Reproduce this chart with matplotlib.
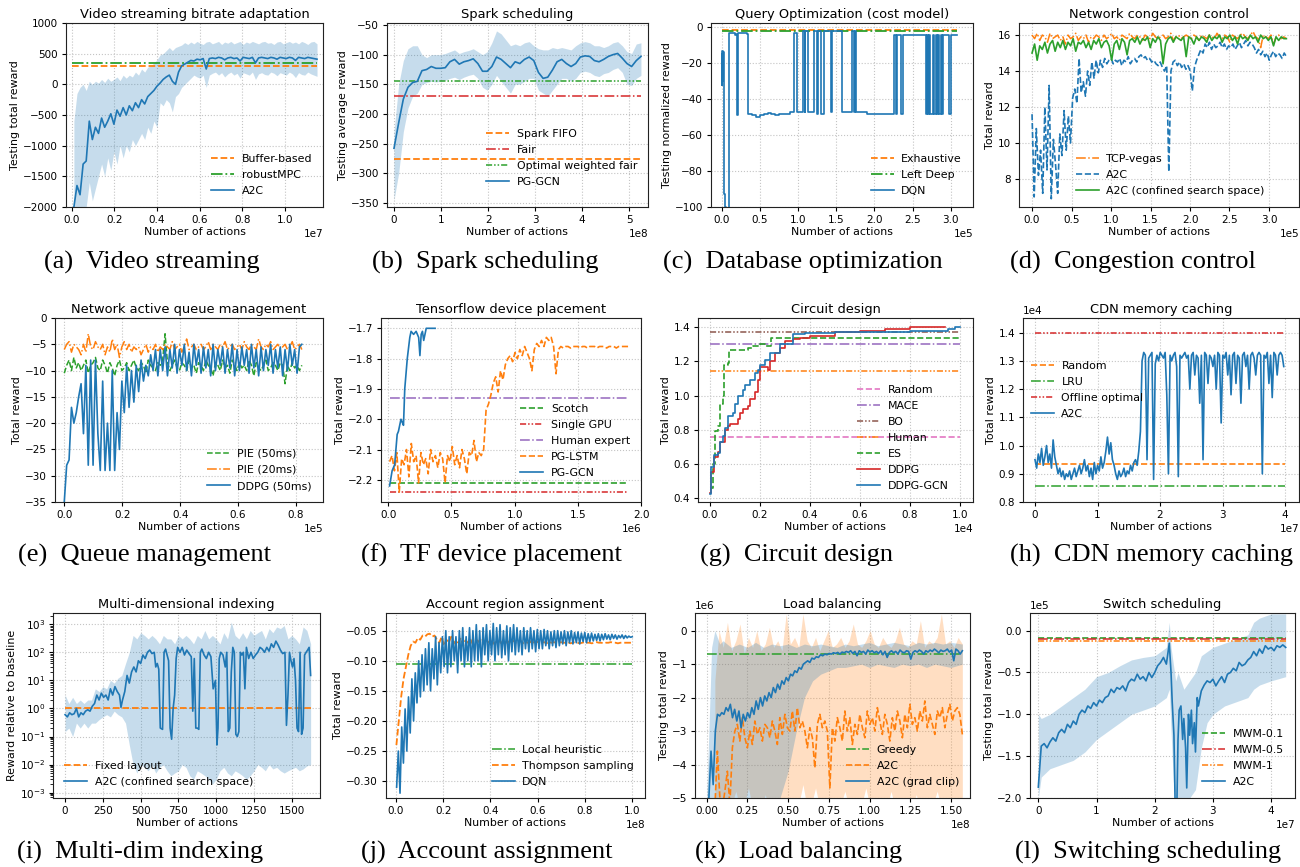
import numpy as np
import matplotlib
matplotlib.use("Agg")
import matplotlib.pyplot as plt
from matplotlib.ticker import MultipleLocator, LogLocator, NullFormatter

# ---------------- colours / styles ----------------
BLUE = "#1f77b4"; ORANGE = "#ff7f0e"; GREEN = "#2ca02c"; RED = "#d62728"
PURPLE = "#9467bd"; BROWN = "#8c564b"; PINK = "#e377c2"
DASH = (0, (3.7, 1.6))
DASHDOT = (0, (6.4, 1.6, 1.0, 1.6))
DDOT = (0, (4.0, 1.3, 1.0, 1.3, 1.0, 1.3))

# ---------------- (a) video streaming ----------------
a_baselines = {"Buffer-based": 300, "robustMPC": 350}
a_a2c = [-2000, -1650, -1800, -1300, -1250, -600, -900, -700, -800, -550,
         -700, -600, -480, -650, -420, -520, -380, -500, -350, -430,
         -300, -380, -250, -320, -200, -150, -100, -30, 20, 80,
         120, 150, 50, 0, 200, 300, 330, 360, 390, 380,
         410, 400, 420, 250, 420, 430, 420, 440, 430, 400,
         430, 440, 420, 430, 380, 440, 430, 420, 440, 350,
         430, 440, 430, 420, 440, 430, 410, 440, 430, 420,
         440, 430, 390, 440, 430, 420, 440, 430, 420, 410]
a_hi = [-600, -150, -50, 0, -100, 50, 0, 50, 20, 80,
        30, 100, 50, 80, 120, 60, 150, 100, 150, 120,
        200, 150, 250, 200, 280, 300, 350, 400, 480, 500,
        550, 600, 550, 600, 620, 640, 680, 650, 690, 660,
        700, 670, 650, 690, 700, 660, 680, 700, 650, 690,
        670, 700, 660, 680, 700, 650, 690, 670, 700, 680,
        660, 690, 700, 670, 680, 650, 690, 700, 660, 680,
        700, 670, 690, 660, 700, 680, 650, 690, 700, 660]
a_lo = [-2000, -2000, -2000, -2000, -2000, -1600, -1900, -1700, -1500, -1300,
        -1500, -1200, -1400, -1100, -1300, -1000, -1200, -1000, -1100, -900,
        -1000, -900, -800, -900, -700, -800, -600, -700, -300, -350,
        -250, -300, -450, -200, -150, -50, 0, 50, 100, 150,
        120, 100, 150, -50, 150, 180, 200, 150, 190, 120,
        170, 200, 150, 180, 100, 190, 170, 150, 200, 80,
        170, 190, 160, 150, 200, 180, 140, 190, 170, 150,
        200, 170, 110, 190, 160, 150, 200, 170, 150, 130]

# ---------------- (b) spark scheduling ----------------
b_baselines = {"Spark FIFO": -276, "Fair": -169, "Optimal weighted fair": -144}
b_pg = [-258, -215, -175, -155, -147, -145, -127, -125, -120, -123,
        -123, -122, -112, -108, -116, -112, -110, -107, -115, -128,
        -128, -120, -104, -108, -115, -122, -112, -115, -108, -104,
        -110, -130, -140, -138, -126, -112, -108, -115, -120, -115,
        -104, -102, -103, -110, -112, -108, -103, -100, -98, -106,
        -115, -120, -110, -103]
b_hi = [-230, -150, -110, -90, -85, -85, -100, -105, -100, -100,
        -100, -98, -95, -92, -98, -95, -93, -90, -95, -100,
        -95, -80, -60, -65, -75, -85, -82, -85, -80, -78,
        -85, -90, -92, -92, -88, -90, -88, -90, -92, -85,
        -80, -78, -80, -85, -85, -88, -85, -80, -78, -85,
        -95, -98, -82, -80]
b_lo = [-345, -300, -230, -190, -170, -165, -150, -147, -145, -146,
        -145, -143, -140, -138, -142, -138, -135, -133, -140, -155,
        -160, -150, -135, -145, -155, -165, -150, -150, -145, -140,
        -140, -160, -165, -170, -160, -150, -140, -140, -145, -140,
        -130, -128, -130, -135, -137, -132, -130, -125, -122, -130,
        -150, -152, -140, -135]

# ---------------- (c) query optimization (x in 1e5) ----------------
c_baselines = {"Exhaustive": -1.5, "Left Deep": -1.9}
c_dqn = [(0.000, -15), (0.004, -32), (0.008, -13), (0.012, -30), (0.016, -20),
         (0.020, -14), (0.024, -92), (0.030, -93), (0.045, -100), (0.055, -102),
         (0.070, -105), (0.085, -110), (0.100, -3), (0.180, -4), (0.190, -3.5),
         (0.200, -49), (0.210, -3), (0.330, -3.5), (0.340, -48), (0.400, -49),
         (0.450, -50), (0.500, -49), (0.550, -48), (0.600, -47.5), (0.650, -48),
         (0.700, -49), (0.750, -48), (0.800, -48.5), (0.850, -48), (0.900, -47),
         (0.950, -3), (0.985, -47), (1.060, -2), (1.085, -47), (1.095, -2),
         (1.125, -47), (1.210, -2), (1.245, -48), (1.265, -2), (1.300, -48),
         (1.335, -2), (1.435, -47), (1.445, -2), (1.580, -47), (1.700, -2),
         (1.730, -47), (1.745, -2), (1.760, -47), (1.900, -48), (2.250, -4),
         (2.280, -48), (2.300, -4), (2.350, -48), (2.370, -4), (2.680, -48),
         (2.690, -4), (2.700, -48), (2.715, -4), (2.730, -48), (2.760, -4),
         (2.780, -48), (2.800, -4), (2.820, -48), (2.835, -4), (2.850, -48),
         (2.870, -4), (2.880, -48), (2.895, -4), (2.970, -48), (3.000, -4),
         (3.080, -4)]

# ---------------- (d) congestion control (x in 1e5, 0..3.22) ----------------
d_vegas = [16.0, 15.8, 16.1, 15.7, 16.0, 15.9, 15.6, 16.1, 15.8, 15.9,
           16.0, 15.7, 15.9, 15.5, 16.0, 15.8, 15.9, 16.1, 15.7, 15.9,
           15.8, 16.0, 15.6, 15.9, 15.8, 16.0, 15.9, 15.7, 16.0, 15.8,
           15.9, 16.1, 15.8, 15.9, 15.7, 16.0, 15.9, 15.8, 16.1, 15.9,
           15.8, 16.0, 15.9, 15.7, 16.0, 15.9, 15.8, 16.1, 15.9, 15.8,
           15.9, 16.0, 15.8, 15.9, 16.1, 15.7, 15.9, 16.0, 15.8, 15.9,
           16.0, 15.9, 15.8, 16.0, 15.9, 15.7, 16.0, 15.9, 15.8, 16.0,
           15.9, 15.8, 16.1, 15.9, 15.8, 16.0, 15.9, 15.6, 16.0, 15.9,
           15.8, 16.0, 16.1, 15.9, 15.8, 16.0, 16.2, 15.9, 15.8, 15.3,
           16.0, 15.9, 15.8, 16.0, 15.5, 15.9, 16.0, 15.8, 15.9, 15.8]
d_a2c = [11.6, 7.0, 10.8, 8.2, 9.6, 7.2, 12.0, 8.5, 13.2, 6.9,
         10.2, 8.8, 7.2, 10.5, 9.3, 11.8, 9.6, 11.5, 10.0, 12.5,
         13.0, 12.2, 14.7, 12.8, 13.4, 12.6, 14.0, 13.2, 14.5, 13.6,
         14.6, 13.9, 14.6, 14.2, 14.7, 14.4, 14.6,
         14.7, 14.4, 14.6, 14.5, 14.7, 14.3, 14.6, 14.5, 14.8, 14.4,
         14.6, 14.7, 14.5, 14.8, 14.9, 14.7, 14.8, 14.6, 14.7, 14.5,
         14.6, 14.4, 14.3, 14.5, 14.2, 14.0,
         14.3, 8.4, 14.0,
         14.5, 14.6, 14.3, 14.5, 14.2, 14.4, 14.1, 14.3, 14.0, 12.9,
         14.2, 14.6, 14.9, 15.2, 15.0, 15.5, 15.3, 15.6, 15.2, 15.5,
         15.3, 15.4, 15.6, 15.3, 15.5, 15.2, 15.4, 15.3, 15.5, 15.2,
         15.4, 15.6, 15.3, 15.5, 15.7, 15.4, 15.6, 15.5, 15.3, 15.0,
         15.2, 14.9, 15.1, 14.8, 15.0, 14.6, 14.9, 15.1, 14.8, 15.0,
         14.9, 14.7, 15.0, 14.8]
d_conf = [15.0, 15.5, 14.6, 15.4, 15.2, 15.6, 15.0, 15.5, 15.7, 15.1,
          15.6, 15.3, 15.7, 15.2, 15.6, 15.4, 15.8, 15.1, 15.6, 15.5,
          15.7, 15.3, 15.6, 15.2, 15.7, 15.5, 15.8, 15.3, 15.6, 15.7,
          15.4, 14.6, 15.5, 15.7, 15.2, 15.8, 15.6, 14.9, 15.7, 15.8,
          15.6, 15.9, 15.5, 15.8, 15.7, 15.9, 15.3, 15.8, 15.6, 15.9,
          15.7, 14.4, 15.5, 15.8, 15.9, 15.6, 15.9, 15.8, 15.7, 15.9,
          14.8, 15.9, 15.8, 15.5, 15.9, 15.7, 15.9, 15.8, 15.6, 16.0,
          15.7, 15.9, 15.8, 16.0, 15.6, 15.9, 15.8, 16.0, 15.7, 15.9,
          15.5, 16.0, 15.8, 15.9, 15.7, 16.0, 15.8, 15.9, 15.6, 16.0,
          15.8, 15.9, 15.7, 15.9, 15.4, 15.9, 15.7, 15.9, 15.8, 15.8]

# ---------------- (e) active queue management (x in 1e5, 0..0.82) ----------------
e_ddpg = [-35, -28, -27, -17, -20, -18, -15, -12.5, -22, -9,
          -28, -8, -28, -8, -22, -29, -12, -29, -20, -29,
          -10, -29, -18, -25, -12, -18, -9, -17, -10, -16,
          -9, -14, -8, -12, -9, -11, -7, -10, -6, -11,
          -6, -10, -5.5, -11, -6, -9.5, -5, -10.5, -6, -9,
          -5, -10, -6.5, -11, -5, -9, -6, -10.5, -5.5, -9.5,
          -6, -11, -5, -10, -6, -9, -5.5, -10.5, -6, -9.5,
          -5, -11, -6, -10, -5.5, -9, -6, -10.5, -5, -9.5,
          -6, -11, -5.5, -10, -6, -9, -5, -10.5, -6, -9.5,
          -5.5, -11, -6, -10, -5, -9, -6, -10.5, -5.5, -5]
e_pie50 = [-10.5, -9, -8, -10, -7.5, -9.5, -8.5, -10, -9, -8,
           -10.5, -9, -8.5, -7.5, -9.5, -10, -8, -9, -10.5, -8.5,
           -9.5, -11, -9, -8, -10, -9.5, -8.5, -10, -9, -8,
           -9.5, -10, -8.5, -9, -10.5, -8, -9, -9.5, -10, -8.5,
           -9, -8, -3, -8.5, -10, -9, -8, -9.5, -10, -8.5,
           -9, -10, -8, -9.5, -9, -10.5, -8.5, -9, -10, -8,
           -9, -9.5, -11, -8.5, -9, -10, -8, -9.5, -9, -10.5,
           -8, -9, -10, -8.5, -9.5, -9, -10, -8, -9, -11,
           -8.5, -9.5, -10, -9, -8, -10, -9.5, -8.5, -9, -10,
           -8.5, -9, -12.5, -9, -10, -8.5, -9.5, -9, -10, -9]
e_pie20 = [-6, -5, -4.5, -6.5, -5, -5.5, -6, -7, -5, -6.5,
           -3, -5.5, -6, -4.5, -5.5, -6, -5, -7, -5.5, -6.5,
           -4, -6, -5, -7.5, -5.5, -4.5, -6, -5, -6.5, -5.5,
           -6, -5.5, -7, -6, -5, -6.5, -5.5, -6, -5, -6.5,
           -5.5, -6, -5, -5.5, -6, -4.5, -6, -5.5, -5, -6.5,
           -5.5, -4, -6, -5.5, -5, -6, -5.5, -5, -6, -5.5,
           -4.5, -6, -5, -5.5, -6, -5, -5.5, -4.5, -6, -5.5,
           -5, -6, -5.5, -5, -6, -4.5, -5.5, -6, -5, -5.5,
           -6, -4, -5.5, -6, -5, -5.5, -4.5, -6, -5.5, -5,
           -6, -5.5, -5, -6, -5.5, -4.5, -6, -5.5, -5, -6]

# ---------------- (f) TF device placement (x in 1e6) ----------------
f_baselines = {"Scotch": -2.21, "Single GPU": -2.24, "Human expert": -1.93}
f_lstm = [-2.14, -2.12, -2.17, -2.11, -2.24, -2.13, -2.15, -2.10, -2.19, -2.08,
          -2.14, -2.12, -2.21, -2.11, -2.15, -2.13, -2.18, -2.10, -2.14, -2.12,
          -2.16, -2.11, -2.13, -2.21, -2.12, -2.14, -2.09, -2.15, -2.12, -2.16,
          -2.10, -2.13, -2.18, -2.11, -2.12, -2.07, -2.14, -2.11, -2.12, -2.10,
          -1.97, -1.95, -1.92, -1.88, -1.86, -1.91, -1.84, -1.87, -1.82, -1.80,
          -1.79, -1.81, -1.78, -1.80, -1.77, -1.79, -1.76, -1.78, -1.80, -1.84,
          -1.77, -1.75, -1.76, -1.74, -1.76, -1.73, -1.74, -1.73, -1.76, -1.85,
          -1.77, -1.76, -1.765, -1.76, -1.76, -1.765, -1.76, -1.76, -1.76, -1.765,
          -1.76, -1.76, -1.765, -1.76, -1.76, -1.76, -1.765, -1.76, -1.76, -1.76,
          -1.765, -1.76, -1.76, -1.76, -1.765, -1.76, -1.76, -1.76, -1.76, -1.76]
f_gcn = [(0.01, -2.22), (0.03, -2.17), (0.05, -2.15), (0.06, -2.10), (0.07, -2.05),
         (0.08, -2.04), (0.09, -2.02), (0.10, -2.00), (0.11, -2.01), (0.12, -2.02),
         (0.13, -1.90), (0.15, -1.80), (0.17, -1.73), (0.18, -1.71), (0.20, -1.72),
         (0.22, -1.71), (0.24, -1.73), (0.25, -1.79), (0.26, -1.72), (0.27, -1.71),
         (0.28, -1.74), (0.30, -1.70), (0.32, -1.70), (0.37, -1.70)]

# ---------------- (g) circuit design (x in 1e4) ----------------
g_baselines = {"Random": 0.755, "MACE": 1.30, "BO": 1.375, "Human": 1.145}
g_es = [(0.0, 0.45), (0.005, 0.46), (0.01, 0.60), (0.02, 0.79), (0.03, 0.82),
        (0.04, 0.95), (0.05, 1.00), (0.055, 1.18), (0.07, 1.19), (0.075, 1.27),
        (0.15, 1.28), (0.17, 1.29), (0.20, 1.30), (0.22, 1.29), (0.245, 1.335),
        (1.0, 1.335)]
g_ddpg = [(0.0, 0.43), (0.005, 0.55), (0.015, 0.64), (0.03, 0.67), (0.04, 0.73),
          (0.06, 0.80), (0.07, 0.82), (0.08, 0.83), (0.10, 0.83), (0.11, 0.86),
          (0.12, 0.90), (0.13, 0.92), (0.15, 0.94), (0.16, 0.98), (0.18, 1.02),
          (0.19, 1.09), (0.20, 1.17), (0.22, 1.17), (0.23, 1.15), (0.24, 1.20),
          (0.26, 1.25), (0.28, 1.28), (0.30, 1.32), (0.33, 1.33), (0.36, 1.34),
          (0.40, 1.35), (0.50, 1.37), (0.60, 1.38), (0.70, 1.39), (0.80, 1.40),
          (0.94, 1.405)]
g_gcn = [(0.0, 0.42), (0.005, 0.58), (0.015, 0.65), (0.03, 0.66), (0.04, 0.73),
         (0.05, 0.76), (0.06, 0.81), (0.07, 0.88), (0.09, 0.90), (0.10, 0.95),
         (0.11, 1.00), (0.13, 1.03), (0.14, 1.06), (0.16, 1.09), (0.18, 1.13),
         (0.19, 1.15), (0.20, 1.18), (0.22, 1.21), (0.24, 1.25), (0.26, 1.25),
         (0.28, 1.30), (0.32, 1.30), (0.33, 1.36), (0.38, 1.365), (0.50, 1.37),
         (0.60, 1.375), (0.80, 1.38), (0.95, 1.39), (0.98, 1.40), (1.0, 1.40)]

# ---------------- (h) CDN caching (x in 1e7, y in 1e4) ----------------
h_baselines = {"Random": 0.935, "LRU": 0.855, "Offline optimal": 1.398}
h_a2c = [0.95, 0.92, 0.97, 0.94, 0.99, 0.93, 0.96, 1.00, 0.94, 0.97, 0.92, 1.02,
         0.96, 0.93, 0.90, 0.92, 0.89, 0.91, 0.88, 0.90, 0.89, 0.91, 0.88, 0.90, 0.92, 0.89, 0.91,
         0.93, 0.90, 0.92, 0.95, 0.91, 0.93, 0.89, 0.92, 0.88, 0.94, 0.90, 0.93, 0.91, 0.96, 0.92, 0.94,
         0.98, 1.03, 0.97, 1.01, 0.95, 0.93,
         0.90, 0.88, 0.91, 0.89, 0.90, 0.92, 0.89, 0.91, 0.90, 0.93, 0.91, 0.94,
         0.95, 0.93, 0.98, 1.05,
         1.30, 1.33, 1.32, 0.95, 1.31, 1.32, 1.33, 0.88, 1.29, 1.32, 1.30, 1.33,
         1.32, 1.31, 1.33, 1.18, 0.90, 1.32, 1.30, 1.32, 1.33, 1.28, 0.89, 1.32,
         1.31, 1.32, 1.33, 1.31, 1.32, 1.20, 1.32, 1.33, 1.25, 1.32, 1.31, 1.15,
         1.32, 0.95, 1.33, 1.32, 1.22, 1.32, 1.31, 1.28, 1.32, 1.20, 1.33, 1.32,
         1.08, 1.32, 1.31, 1.33, 1.25, 1.32, 1.18, 1.32, 1.33, 1.22, 1.32, 1.31,
         1.15, 1.32, 1.33, 1.28, 1.32, 1.20, 1.32, 1.33, 1.31, 1.25, 1.32, 1.33,
         1.32, 0.90, 1.32, 1.31, 1.33, 1.22, 1.32, 1.17, 1.33, 1.32, 1.25, 1.32,
         1.33, 1.32, 1.28]

# ---------------- (i) multi-dim indexing ----------------
i_a2c = [(0, 0.6), (15, 0.5), (30, 0.7), (45, 0.6), (60, 0.65), (75, 1.0), (90, 0.5),
         (105, 0.7), (120, 0.6), (135, 0.8), (150, 0.9), (165, 0.8), (180, 1.2), (195, 1.5),
         (210, 3), (225, 2), (240, 3.5), (255, 2.5), (270, 3), (285, 2), (300, 5), (315, 3),
         (330, 6), (345, 4), (360, 3), (370, 1.1), (380, 2), (395, 4), (410, 15), (425, 8),
         (440, 20), (455, 30), (470, 20), (485, 50), (500, 40), (515, 80), (530, 60),
         (545, 100), (560, 120), (575, 90), (590, 100), (600, 30), (610, 40), (620, 25),
         (630, 0.2), (645, 0.18), (655, 100), (665, 130), (675, 80), (685, 50), (695, 0.2),
         (705, 0.08), (715, 1), (725, 3), (735, 60), (745, 150), (760, 100), (775, 150),
         (790, 80), (805, 120), (820, 90), (835, 70), (845, 0.8), (855, 60), (865, 0.2),
         (875, 0.2), (885, 0.18), (895, 100), (905, 130), (920, 80), (935, 60), (950, 100),
         (965, 70), (980, 5), (995, 10), (1005, 0.05), (1012, 0.2), (1020, 60), (1030, 100),
         (1045, 80), (1060, 30), (1070, 100), (1080, 0.15), (1090, 0.2), (1100, 20),
         (1110, 150), (1120, 100), (1130, 0.12), (1140, 0.1), (1150, 0.15), (1160, 100),
         (1170, 80), (1180, 100), (1190, 5), (1200, 150), (1215, 60), (1230, 100),
         (1245, 60), (1260, 80), (1275, 100), (1290, 150), (1305, 130), (1320, 100),
         (1335, 150), (1350, 110), (1365, 200), (1380, 150), (1395, 250), (1410, 180),
         (1425, 120), (1440, 90), (1455, 100), (1465, 0.25), (1475, 3), (1485, 100),
         (1495, 50), (1505, 30), (1515, 60), (1525, 10), (1535, 0.2), (1545, 0.15),
         (1555, 100), (1565, 0.12), (1575, 0.2), (1585, 80), (1595, 100), (1605, 120),
         (1615, 150), (1625, 15)]
i_band_hi = [3, 1.5, 2.5, 1.5, 2, 1.5, 2, 2, 5, 4, 6, 5, 10, 8, 12, 15, 40, 100, 400, 300,
             500, 400, 300, 400, 300, 200, 400, 300, 300, 200, 400, 300, 400, 300, 200, 400,
             300, 600, 300, 400, 300, 200, 500, 300, 1200, 400, 300, 500, 300, 600, 400, 500,
             600, 300, 700, 500, 800, 700, 900, 300, 400, 300, 200, 800, 600, 200]
i_band_lo = [0.15, 0.2, 0.1, 0.3, 0.2, 0.3, 0.2, 0.3, 0.3, 0.4, 0.5, 0.6, 0.5, 0.8, 0.6, 0.5,
             0.3, 0.05, 0.01, 0.005, 0.01, 0.008, 0.006, 0.01, 0.005, 0.008, 0.01, 0.006,
             0.004, 0.005, 0.006, 0.01, 0.008, 0.004, 0.003, 0.006, 0.005, 0.004, 0.003,
             0.002, 0.003, 0.006, 0.008, 0.005, 0.004, 0.006, 0.005, 0.004, 0.003, 0.004,
             0.006, 0.01, 0.008, 0.006, 0.01, 0.007, 0.008, 0.006, 0.005, 0.006, 0.007,
             0.008, 0.006, 0.007, 0.009, 0.01]

# ---------------- (j) account region assignment (x in 1e8) ----------------
j_local = -0.106
j_dqn = [-0.31, -0.25, -0.32, -0.21, -0.27, -0.18, -0.25, -0.16, -0.22, -0.13,
         -0.20, -0.12, -0.17, -0.10, -0.16, -0.09, -0.15, -0.08, -0.14, -0.07,
         -0.15, -0.08, -0.13, -0.06, -0.14, -0.07, -0.12, -0.06, -0.11,
         -0.05, -0.12, -0.06, -0.11, -0.05, -0.10, -0.06, -0.12, -0.05, -0.10,
         -0.045, -0.11, -0.06, -0.10,
         -0.045, -0.11, -0.05, -0.10, -0.04, -0.10, -0.05, -0.11, -0.045, -0.09,
         -0.04, -0.10, -0.05, -0.09,
         -0.038, -0.10, -0.045, -0.09, -0.04, -0.095, -0.05, -0.09, -0.042, -0.10,
         -0.045, -0.085, -0.04, -0.09,
         -0.045, -0.085, -0.05, -0.09, -0.045, -0.08, -0.05, -0.085, -0.045, -0.08,
         -0.05, -0.085, -0.048, -0.08,
         -0.05, -0.08, -0.048, -0.075, -0.05, -0.08, -0.052, -0.075, -0.05, -0.078,
         -0.05, -0.075, -0.052, -0.072,
         -0.05, -0.075, -0.052, -0.07, -0.05, -0.072, -0.053, -0.07, -0.052, -0.072,
         -0.054, -0.068, -0.053, -0.07,
         -0.055, -0.068, -0.054, -0.067, -0.056, -0.066, -0.055, -0.067, -0.056, -0.065,
         -0.055, -0.064, -0.057, -0.065, -0.056, -0.063, -0.057, -0.064, -0.058, -0.062,
         -0.057, -0.063, -0.058, -0.062, -0.059, -0.061, -0.06]
j_thompson = [-0.24, -0.20, -0.16, -0.13, -0.11, -0.09, -0.075, -0.068, -0.07, -0.062,
              -0.065, -0.058, -0.06, -0.056, -0.055, -0.06, -0.058,
              -0.065, -0.07, -0.06, -0.075, -0.065, -0.07, -0.06, -0.072, -0.066, -0.07,
              -0.062, -0.075, -0.066, -0.07, -0.064, -0.072, -0.068, -0.066, -0.07, -0.064,
              -0.073, -0.067, -0.07, -0.065, -0.072, -0.068, -0.066, -0.071, -0.065, -0.07,
              -0.068, -0.072, -0.066, -0.07, -0.068, -0.066, -0.071, -0.068, -0.07, -0.067,
              -0.072, -0.068, -0.069,
              -0.068, -0.07, -0.069, -0.071, -0.068, -0.07, -0.069, -0.07, -0.071, -0.069,
              -0.07, -0.07, -0.069, -0.071, -0.07, -0.069, -0.07, -0.071, -0.07, -0.069,
              -0.07, -0.07, -0.071, -0.07, -0.069, -0.07, -0.07, -0.071, -0.07, -0.07,
              -0.069, -0.07, -0.07, -0.071, -0.07, -0.07, -0.07, -0.07, -0.07, -0.07]

# ---------------- (k) load balancing (x in 1e8, y in 1e6) ----------------
k_greedy = -0.7
k_clip = [-5.3, -5.0, -3.6, -4.6, -3.0, -2.5, -2.55, -2.45, -2.5, -2.3,
          -2.4, -2.2, -2.6, -2.35, -2.7, -2.4, -2.9, -2.5, -2.7, -2.45,
          -2.6, -2.3, -2.5, -2.1, -2.35, -2.0, -2.25, -1.95, -2.1, -1.85,
          -2.0, -1.7, -1.85, -1.6, -1.75, -1.5, -1.6, -1.4, -1.5, -1.3,
          -1.35, -1.2, -1.25, -1.1, -1.15, -1.0, -0.95, -0.9, -0.95, -0.82,
          -0.85, -0.78, -0.8, -0.72, -0.75, -0.7,
          -0.72, -0.68, -0.7, -0.66, -0.68, -0.65, -0.7, -0.64, -0.66, -0.62,
          -0.65, -0.6, -0.68, -0.62, -0.75, -0.6, -0.65, -0.62, -0.7, -0.58,
          -0.64, -0.6, -0.66, -0.62, -0.68, -0.6, -0.72, -0.62, -0.8, -0.65,
          -0.6, -0.66, -0.62, -0.7, -0.58, -0.64, -0.66, -0.6, -0.62, -0.85,
          -0.65, -0.6, -0.64, -0.58, -0.62, -0.7, -0.6, -0.64, -0.58, -0.62,
          -0.55, -0.6, -0.66, -0.58, -0.62, -0.6, -0.55, -0.64, -0.58, -0.9,
          -0.55, -0.6, -0.7, -0.6]
k_clip_band_x = [0.0, 0.02, 0.03, 0.05, 0.08, 0.1, 0.15, 0.2, 0.25, 0.3, 0.35, 0.4, 0.45,
                 0.5, 0.55, 0.6, 0.65, 0.7, 0.75, 0.8, 0.85, 0.9, 0.95, 1.0, 1.05, 1.1,
                 1.15, 1.2, 1.25, 1.3, 1.35, 1.4, 1.45, 1.5, 1.57]
k_clip_hi = [-5.0, -2.0, -0.5, 0.0, -0.4, -0.3, -0.5, -0.4, -0.5, -0.35, -0.5, -0.4,
             -0.45, -0.4, -0.5, -0.4, -0.45, -0.4, -0.45, -0.5, -0.4, -0.45, -0.4, -0.35,
             -0.45, -0.4, -0.35, -0.4, -0.45, -0.35, -0.4, -0.35, -0.4, -0.35, -0.4]
k_clip_lo = [-5.5, -5.5, -5.5, -5.5, -5.5, -5.5, -5.5, -5.5, -5.5, -5.5, -5.5, -5.4,
             -5.0, -4.2, -3.0, -2.0, -1.5, -1.3, -1.2, -1.1, -1.1, -1.05, -1.0, -1.1,
             -1.0, -1.05, -1.1, -1.0, -1.05, -1.0, -1.1, -1.0, -1.05, -1.1, -1.0]
k_a2c = [-5.3, -3.6, -5.0, -5.3, -4.8, -4.2, -5.2, -3.5, -3.0, -2.8,
         -3.3, -2.6, -3.2, -3.5, -3.0, -3.4, -2.7, -3.1, -2.9, -3.3,
         -2.8, -2.9, -3.2, -2.7, -3.0, -3.4, -2.6, -3.1, -2.5, -2.9,
         -3.0, -2.4, -3.0, -2.3, -2.9, -2.7, -3.0, -3.5, -2.9, -3.2,
         -4.1, -2.8, -2.5, -2.9, -2.7, -3.0, -4.7, -2.9, -3.3, -2.6,
         -2.9, -3.3, -2.4, -3.0, -2.6, -3.4, -2.8, -3.1, -2.5, -2.9,
         -3.2, -2.4, -2.8, -2.6, -3.0, -2.3, -2.7, -3.1, -2.5, -2.8,
         -3.3, -2.6, -3.0, -2.4, -2.7, -3.2, -2.5, -2.9, -2.2, -2.8,
         -2.6, -3.0, -2.4, -2.7, -2.1, -2.9, -2.5, -2.8, -3.1, -2.4,
         -2.6, -2.3, -2.9, -2.5, -2.2, -2.7, -2.4, -2.3, -2.5, -3.1]
k_a2c_hi = [-1.5, 0.0, -0.5, 0.25, -0.6, -0.3, 0.2, -0.7, -0.2, -0.5,
            0.0, -0.6, -0.4, 0.1, -0.5, -0.3, -0.6, 0.5, -0.4, -0.2,
            -0.5, 0.5, -0.3, -0.5, -0.2, -0.6, -0.3, 0.0, -0.5, -0.4,
            -0.2, -0.5, -0.3, 0.2, -0.4, -0.5, -0.3, 0.0, -0.4, -0.5,
            -0.2, -0.4, -0.5, -0.3, 0.1, -0.4, -0.5, -0.3, -0.4, 0.3,
            -0.5, -0.3, -0.4, -0.2, 0.5, -0.4, -0.3, -0.5, -0.2, -0.4]
k_a2c_lo = [-5.3, -5.3, -5.2, -5.3, -5.2, -4.8, -5.3, -5.2, -4.7, -5.3,
            -5.2, -5.3, -4.9, -5.3, -5.2, -5.3, -5.2, -5.3, -5.2, -5.3,
            -5.2, -4.6, -5.3, -5.2, -4.7, -5.3, -5.2, -5.3, -5.2, -5.3,
            -5.2, -4.8, -5.3, -5.2, -5.3, -5.2, -4.7, -5.3, -5.2, -5.3,
            -5.2, -5.3, -4.8, -5.3, -5.2, -5.3, -5.2, -5.3, -4.9, -5.3,
            -5.2, -5.3, -5.2, -4.8, -5.3, -5.2, -5.3, -5.2, -5.3, -5.2]

# ---------------- (l) switch scheduling (x in 1e7, y in 1e5) ----------------
l_baselines = {"MWM-0.1": -0.09, "MWM-0.5": -0.105, "MWM-1": -0.12}
l_x = [0.0, 0.05, 0.1, 0.15, 0.2, 0.25, 0.3, 0.35, 0.4, 0.45, 0.5, 0.55, 0.6, 0.65, 0.7,
       0.75, 0.8, 0.85, 0.9, 0.95, 1.0, 1.05, 1.1, 1.15, 1.2, 1.25, 1.3, 1.35, 1.4, 1.45,
       1.5, 1.55, 1.6, 1.65, 1.7, 1.75, 1.8, 1.85, 1.9, 1.95, 2.0, 2.05, 2.1, 2.15, 2.2,
       2.25, 2.28, 2.3, 2.33, 2.35, 2.38, 2.4, 2.42, 2.45, 2.48, 2.5, 2.53, 2.55, 2.58,
       2.6, 2.63, 2.65, 2.68, 2.7, 2.73, 2.75, 2.8, 2.85, 2.9, 2.95, 3.0, 3.05, 3.1, 3.15,
       3.2, 3.25, 3.3, 3.35, 3.4, 3.45, 3.5, 3.55, 3.6, 3.65, 3.7, 3.75, 3.8, 3.85, 3.9,
       3.95, 4.0, 4.05, 4.1, 4.15, 4.2, 4.25]
l_a2c = [-1.87, -1.38, -1.35, -1.40, -1.33, -1.28, -1.32, -1.22, -1.18, -1.22,
         -1.12, -1.16, -1.08, -1.12, -1.0, -0.95, -0.98, -0.9, -0.93, -0.86,
         -0.9, -0.83, -0.86, -0.8, -0.78, -0.7, -0.74, -0.68, -0.7, -0.66,
         -0.72, -0.62, -0.58, -0.6, -0.52, -0.58, -0.55, -0.6, -0.5, -0.56,
         -0.5, -0.42, -0.38, -0.32, -0.4, -0.15,
         -0.5, -0.85, -1.25, -2.05, -2.1, -1.3, -0.95, -0.9, -1.3, -1.05,
         -1.4, -1.88, -1.0, -1.25, -0.95, -1.35, -1.1, -1.45, -0.8, -0.9,
         -0.72, -0.65, -0.6, -0.62, -0.58, -0.66, -0.6, -0.55, -0.62, -0.52,
         -0.5, -0.45, -0.48, -0.38, -0.42, -0.4, -0.35, -0.32, -0.25, -0.3,
         -0.22, -0.27, -0.18, -0.22, -0.2, -0.24, -0.18, -0.2, -0.17, -0.2]
l_band_x = [0.0, 0.05, 0.2, 0.4, 0.6, 0.8, 1.0, 1.2, 1.4, 1.6, 1.8, 2.0, 2.1, 2.2, 2.25,
            2.28, 2.32, 2.36, 2.4, 2.5, 2.6, 2.7, 2.8, 2.9, 3.0, 3.2, 3.4, 3.6, 3.7, 3.8,
            4.0, 4.1, 4.25]
l_band_hi = [-1.0, -1.05, -1.0, -0.9, -0.8, -0.7, -0.55, -0.5, -0.42, -0.35, -0.32, -0.3,
             -0.25, -0.2, 0.1, -0.2, -0.4, -0.6, -0.5, -0.7, -0.6, -0.5, -0.3, -0.25, -0.2,
             -0.15, -0.1, -0.05, 0.1, 0.15, 0.2, 0.2, 0.2]
l_band_lo = [-2.0, -1.75, -1.65, -1.6, -1.55, -1.45, -1.3, -1.2, -1.1, -1.0, -0.95, -0.9,
             -0.85, -0.8, -0.7, -1.2, -1.8, -2.0, -2.0, -2.0, -2.0, -1.9, -1.4, -1.1, -1.0,
             -0.9, -0.85, -0.8, -0.7, -0.65, -0.6, -0.58, -0.55]

captions = ["(a)  Video streaming", "(b)  Spark scheduling", "(c)  Database optimization",
            "(d)  Congestion control", "(e)  Queue management", "(f)  TF device placement",
            "(g)  Circuit design", "(h)  CDN memory caching", "(i)  Multi-dim indexing",
            "(j)  Account assignment", "(k)  Load balancing", "(l)  Switching scheduling"]

# ---------------- style ----------------
plt.rcParams.update({
    "font.family": "DejaVu Sans", "font.size": 7.9,
    "axes.titlesize": 9.4, "axes.labelsize": 7.9,
    "xtick.labelsize": 7.5, "ytick.labelsize": 7.5, "legend.fontsize": 7.9,
    "axes.linewidth": 0.8, "axes.edgecolor": "#222222",
    "xtick.major.size": 3.2, "ytick.major.size": 3.2,
    "xtick.major.width": 0.8, "ytick.major.width": 0.8,
    "xtick.major.pad": 2.5, "ytick.major.pad": 2.5,
})

fig = plt.figure(figsize=(13, 8.67), dpi=100)
W, H = 1300.0, 867.0


def new_ax(px, title, ylabel, xlim, ylim, xstep=None, ystep=None):
    x0, x1, y0, y1 = px
    ax = fig.add_axes([x0 / W, 1 - y1 / H, (x1 - x0) / W, (y1 - y0) / H])
    ax.set_title(title, pad=3.5)
    ax.set_xlabel("Number of actions", labelpad=1.5)
    ax.set_ylabel(ylabel, labelpad=2)
    ax.grid(True, linestyle=":", color="#c4c4c4", linewidth=0.8)
    ax.set_axisbelow(True)
    ax.set_xlim(*xlim)
    ax.set_ylim(*ylim)
    if xstep:
        ax.xaxis.set_major_locator(MultipleLocator(xstep))
    if ystep:
        ax.yaxis.set_major_locator(MultipleLocator(ystep))
    return ax


def sci(ax, axis, power):
    ax.ticklabel_format(style="sci", axis=axis, scilimits=(power, power), useMathText=False)
    getattr(ax, axis + "axis").get_offset_text().set_fontsize(7.5)


def hl(ax, xr, y, color, ls, label, lw=1.1):
    ax.plot(xr, [y, y], color=color, linestyle=ls, lw=lw, label=label)


def leg(ax, **kw):
    kw.setdefault("borderaxespad", 0.6)
    ax.legend(frameon=False, handlelength=2.1, handletextpad=0.7,
              labelspacing=0.55, **kw)


def band(ax, x, lo, hi, color, alpha):
    n = min(len(x), len(lo), len(hi))
    ax.fill_between(np.asarray(x[:n]), lo[:n], hi[:n], color=color, alpha=alpha, lw=0)


# (a)
ax = new_ax((66, 323, 23, 207), "Video streaming bitrate adaptation", "Testing total reward",
            (-0.027e7, 1.178e7), (-2000, 1000), 0.2e7, 500)
band(ax, np.linspace(0.01e7, 1.15e7, len(a_hi)), a_lo, a_hi, BLUE, 0.25)
hl(ax, [0, 1.15e7], a_baselines["Buffer-based"], ORANGE, DASH, "Buffer-based", 1.3)
hl(ax, [0, 1.15e7], a_baselines["robustMPC"], GREEN, DASHDOT, "robustMPC", 1.3)
ax.plot(np.linspace(0.01e7, 1.15e7, len(a_a2c)), a_a2c, color=BLUE, lw=1.2, label="A2C")
sci(ax, "x", 7)
leg(ax, loc="lower right")

# (b)
ax = new_ax((387, 648, 23, 207), "Spark scheduling", "Testing average reward",
            (-0.149e8, 5.40e8), (-357, -46.6), 1e8, 50)
bx = np.linspace(0, 5.25e8, len(b_pg))
band(ax, bx, b_lo, b_hi, BLUE, 0.25)
hl(ax, [0, 5.25e8], b_baselines["Spark FIFO"], ORANGE, DASH, "Spark FIFO", 1.3)
hl(ax, [0, 5.25e8], b_baselines["Fair"], RED, DASHDOT, "Fair")
hl(ax, [0, 5.25e8], b_baselines["Optimal weighted fair"], GREEN, DDOT, "Optimal weighted fair")
ax.plot(bx, b_pg, color=BLUE, lw=1.2, label="PG-GCN")
sci(ax, "x", 8)
leg(ax, loc="lower right", bbox_to_anchor=(1.0, 0.05))

# (c)
ax = new_ax((711, 973, 23, 207), "Query Optimization (cost model)", "Testing normalized reward",
            (-0.14e5, 3.29e5), (-100, 2.4), 0.5e5, 20)
cx = np.array([p[0] for p in c_dqn]) * 1e5
cy = [p[1] for p in c_dqn]
hl(ax, [0, 3.08e5], c_baselines["Exhaustive"], ORANGE, DASH, "Exhaustive", 1.3)
hl(ax, [0, 3.08e5], c_baselines["Left Deep"], GREEN, DASHDOT, "Left Deep", 1.3)
ax.plot(cx, cy, color=BLUE, lw=1.2, drawstyle="steps-post", label="DQN")
sci(ax, "x", 5)
leg(ax, loc="lower right")

# (d)
ax = new_ax((1019, 1299, 23, 207), "Network congestion control", "Total reward",
            (-0.165e5, 3.38e5), (6.44, 16.67), 0.5e5, 2)
ax.plot(np.linspace(0, 3.22e5, len(d_vegas)), d_vegas, color=ORANGE, ls=DASHDOT, lw=1.1,
        label="TCP-vegas")
ax.plot(np.linspace(0, 3.22e5, len(d_a2c)), d_a2c, color=BLUE, ls=DASH, lw=1.2, label="A2C")
ax.plot(np.linspace(0, 3.22e5, len(d_conf)), d_conf, color=GREEN, lw=1.2,
        label="A2C (confined search space)")
sci(ax, "x", 5)
leg(ax, loc="lower center", bbox_to_anchor=(0.54, 0.0))

# (e)
ax = new_ax((55, 323, 318, 502), "Network active queue management", "Total reward",
            (-0.032e5, 0.893e5), (-35, 0), 0.2e5, 5)
ax.plot(np.linspace(0, 0.82e5, len(e_pie50)), e_pie50, color=GREEN, ls=DASH, lw=1.1,
        label="PIE (50ms)")
ax.plot(np.linspace(0, 0.82e5, len(e_pie20)), e_pie20, color=ORANGE, ls=DASHDOT, lw=1.1,
        label="PIE (20ms)")
ax.plot(np.linspace(0, 0.82e5, len(e_ddpg)), e_ddpg, color=BLUE, lw=1.2, label="DDPG (50ms)")
sci(ax, "x", 5)
leg(ax, loc="lower right")

# (f)
ax = new_ax((381, 641, 318, 502), "Tensorflow device placement", "Total reward",
            (-0.058e6, 2.0e6), (-2.273, -1.666), 0.5e6, 0.1)
hl(ax, [0.01e6, 1.9e6], f_baselines["Scotch"], GREEN, DASH, "Scotch", 1.2)
hl(ax, [0.01e6, 1.9e6], f_baselines["Single GPU"], RED, DDOT, "Single GPU")
hl(ax, [0.01e6, 1.9e6], f_baselines["Human expert"], PURPLE, DASHDOT, "Human expert")
ax.plot(np.linspace(0.01e6, 1.9e6, len(f_lstm)), f_lstm, color=ORANGE, ls=DASH, lw=1.2,
        label="PG-LSTM")
ax.plot(np.array([p[0] for p in f_gcn]) * 1e6, [p[1] for p in f_gcn], color=BLUE, lw=1.2,
        label="PG-GCN")
sci(ax, "x", 6)
leg(ax, loc="lower right", bbox_to_anchor=(1.0, 0.07))

# (g)
ax = new_ax((698, 973, 318, 502), "Circuit design", "Total reward",
            (-0.048e4, 1.052e4), (0.375, 1.455), 0.2e4, 0.2)
hl(ax, [0, 1.0e4], g_baselines["Random"], PINK, DASH, "Random", 1.2)
hl(ax, [0, 1.0e4], g_baselines["MACE"], PURPLE, DASHDOT, "MACE")
hl(ax, [0, 1.0e4], g_baselines["BO"], BROWN, DDOT, "BO")
hl(ax, [0, 1.0e4], g_baselines["Human"], ORANGE, DDOT, "Human")
ax.plot(np.array([p[0] for p in g_es]) * 1e4, [p[1] for p in g_es], color=GREEN, ls=DASH,
        lw=1.2, drawstyle="steps-post", label="ES")
ax.plot(np.array([p[0] for p in g_ddpg]) * 1e4, [p[1] for p in g_ddpg], color=RED, lw=1.2,
        drawstyle="steps-post", label="DDPG")
ax.plot(np.array([p[0] for p in g_gcn]) * 1e4, [p[1] for p in g_gcn], color=BLUE, lw=1.2,
        drawstyle="steps-post", label="DDPG-GCN")
sci(ax, "x", 4)
leg(ax, loc="lower right", bbox_to_anchor=(0.95, 0.0))

# (h)
ax = new_ax((1023, 1299, 318, 502), "CDN memory caching", "Total reward",
            (-0.192e7, 4.224e7), (0.8e4, 1.452e4), 1e7, 0.1e4)
hl(ax, [0, 4.0e7], h_baselines["Random"] * 1e4, ORANGE, DASH, "Random", 1.2)
hl(ax, [0, 4.0e7], h_baselines["LRU"] * 1e4, GREEN, DASHDOT, "LRU")
hl(ax, [0, 4.0e7], h_baselines["Offline optimal"] * 1e4, RED, DDOT, "Offline optimal")
ax.plot(np.linspace(0, 3.98e7, len(h_a2c)), np.array(h_a2c) * 1e4, color=BLUE, lw=1.2,
        label="A2C")
sci(ax, "x", 7)
sci(ax, "y", 4)
leg(ax, loc="upper left", bbox_to_anchor=(0.0, 0.81), borderaxespad=0.3)

# (i)
ax = new_ax((53, 320, 613, 798), "Multi-dimensional indexing", "Reward relative to baseline",
            (-80, 1687), (10 ** -3.19, 10 ** 3.4), 250, None)
ax.set_yscale("log")
ax.set_ylim(10 ** -3.19, 10 ** 3.4)
ax.yaxis.set_major_locator(LogLocator(base=10, numticks=12))
ax.yaxis.set_minor_formatter(NullFormatter())
band(ax, np.linspace(0, 1625, len(i_band_hi)), i_band_lo, i_band_hi, BLUE, 0.25)
hl(ax, [0, 1625], 1.0, ORANGE, DASH, "Fixed layout", 1.3)
ax.plot([p[0] for p in i_a2c], [p[1] for p in i_a2c], color=BLUE, lw=1.2,
        label="A2C (confined search space)")
ax.grid(True, which="major", linestyle=":", color="#c4c4c4", linewidth=0.8)
leg(ax, loc="lower left")

# (j)
ax = new_ax((386, 645, 613, 798), "Account region assignment", "Total reward",
            (-0.042e8, 1.054e8), (-0.328, -0.0206), 0.2e8, 0.05)
hl(ax, [0, 1.0e8], j_local, GREEN, DASHDOT, "Local heuristic")
ax.plot(np.linspace(0.002e8, 1.0e8, len(j_thompson)), j_thompson, color=ORANGE, ls=DASH,
        lw=1.3, label="Thompson sampling")
ax.plot(np.linspace(0.003e8, 1.0e8, len(j_dqn)), j_dqn, color=BLUE, lw=1.2, label="DQN")
sci(ax, "x", 8)
leg(ax, loc="lower right")

# (k)
ax = new_ax((695, 970, 613, 798), "Load balancing", "Testing total reward",
            (-0.072e8, 1.617e8), (-5e6, 0.528e6), 0.25e8, 1e6)
band(ax, np.linspace(0.05e8, 1.57e8, len(k_a2c_hi)), np.array(k_a2c_lo) * 1e6,
     np.array(k_a2c_hi) * 1e6, ORANGE, 0.25)
band(ax, np.array(k_clip_band_x) * 1e8, np.array(k_clip_lo) * 1e6,
     np.array(k_clip_hi) * 1e6, BLUE, 0.25)
hl(ax, [0, 1.57e8], k_greedy * 1e6, GREEN, DASHDOT, "Greedy")
ax.plot(np.linspace(0.05e8, 1.57e8, len(k_a2c)), np.array(k_a2c) * 1e6, color=ORANGE,
        ls=DASH, lw=1.2, label="A2C")
ax.plot(np.linspace(0.0, 1.57e8, len(k_clip)), np.array(k_clip) * 1e6, color=BLUE, lw=1.2,
        label="A2C (grad clip)")
sci(ax, "x", 8)
sci(ax, "y", 6)
leg(ax, loc="lower right")

# (l)
ax = new_ax((1030, 1295, 613, 798), "Switch scheduling", "Testing total reward",
            (-0.143e7, 4.41e7), (-2.0e5, 0.211e5), 1e7, 0.5e5)
band(ax, np.array(l_band_x) * 1e7, np.array(l_band_lo) * 1e5, np.array(l_band_hi) * 1e5,
     BLUE, 0.25)
hl(ax, [0, 4.25e7], l_baselines["MWM-0.1"] * 1e5, GREEN, DASH, "MWM-0.1", 1.2)
hl(ax, [0, 4.25e7], l_baselines["MWM-0.5"] * 1e5, RED, DASHDOT, "MWM-0.5")
hl(ax, [0, 4.25e7], l_baselines["MWM-1"] * 1e5, ORANGE, DDOT, "MWM-1")
n = min(len(l_x), len(l_a2c))
ax.plot(np.array(l_x[:n]) * 1e7, np.array(l_a2c[:n]) * 1e5, color=BLUE, lw=1.2, label="A2C")
sci(ax, "x", 7)
sci(ax, "y", 5)
leg(ax, loc="lower right")

# captions
cap_pos = [(152, 262), (485, 262), (803, 262), (1133, 262),
           (145, 555), (491, 555), (797, 555), (1151, 555),
           (140, 852), (487, 852), (799, 852), (1148, 852)]
for (cx_, cy_), txt in zip(cap_pos, captions):
    fig.text(cx_ / W, 1 - cy_ / H, txt, ha="center", va="center",
             family="Liberation Serif", fontsize=19)

fig.savefig("out.png", dpi=100)
